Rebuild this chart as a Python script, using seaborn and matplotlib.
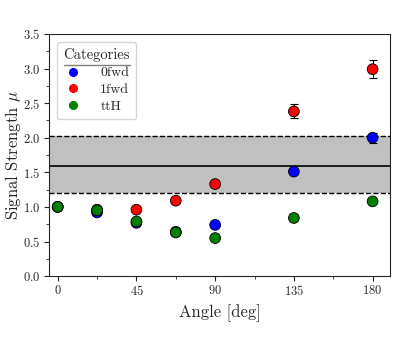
import numpy as np
import pandas as pd
import matplotlib
matplotlib.use("Agg")
import matplotlib.pyplot as plt
import seaborn as sns
from matplotlib.lines import Line2D

# measured signal strengths per category
angles = [0, 22.5, 45, 67.5, 90, 135, 180]
mu_0fwd = [1.00, 0.92, 0.77, 0.64, 0.74, 1.51, 2.00]
err_0fwd = [0.01, 0.02, 0.02, 0.02, 0.02, 0.03, 0.07]
mu_1fwd = [1.00, 0.96, 0.96, 1.09, 1.33, 2.38, 2.99]
err_1fwd = [0.01, 0.02, 0.02, 0.03, 0.04, 0.10, 0.13]
mu_tth = [1.00, 0.95, 0.79, 0.63, 0.55, 0.84, 1.08]
err_tth = [0.01, 0.01, 0.01, 0.01, 0.01, 0.01, 0.01]

# reference band
band_center = 1.59
band_low = 1.20
band_high = 2.02

categories = ["0fwd", "1fwd", "ttH"]
colors = ["blue", "red", "green"]

df = pd.DataFrame({
    "angle": angles * 3,
    "mu": mu_0fwd + mu_1fwd + mu_tth,
    "err": err_0fwd + err_1fwd + err_tth,
    "cat": np.repeat(categories, len(angles)),
})

sns.set_style("ticks")
plt.rcParams["font.family"] = ["cmr10", "DejaVu Serif"]
plt.rcParams["mathtext.fontset"] = "cm"
plt.rcParams["axes.formatter.use_mathtext"] = True

fig = plt.figure(figsize=(4.15, 3.46), dpi=100)
ax = fig.add_axes([0.118, 0.202, 0.822, 0.70])

ax.axhspan(band_low, band_high, color="silver", zorder=0, lw=0)
ax.axhline(band_center, color="black", lw=1.2, zorder=1)
ax.axhline(band_low, color="black", lw=1.0, ls="--", zorder=1)
ax.axhline(band_high, color="black", lw=1.0, ls="--", zorder=1)

for cat in categories:
    d = df[df["cat"] == cat]
    ax.errorbar(d["angle"], d["mu"], yerr=d["err"], fmt="none",
                ecolor="black", elinewidth=0.8, capsize=3, capthick=0.8, zorder=2)

sns.scatterplot(data=df, x="angle", y="mu", hue="cat", palette=colors,
                hue_order=categories, s=60, edgecolor="black", linewidth=0.6,
                zorder=3, ax=ax, legend=False)

ax.set_xlim(-5, 190)
ax.set_ylim(0, 3.5)
ax.set_xticks([0, 45, 90, 135, 180])
ax.set_xticks(np.arange(22.5, 190, 45), minor=True)
ax.set_yticks(np.arange(0, 3.51, 0.5))
ax.set_yticks(np.arange(0.25, 3.5, 0.5), minor=True)
ax.tick_params(labelsize=9, length=3.5, width=0.8, pad=2.5)
ax.tick_params(which="minor", length=2, width=0.6)
for s in ax.spines.values():
    s.set_linewidth(0.8)
ax.set_xlabel("Angle [deg]", fontsize=12)
ax.set_ylabel(r"Signal Strength $\mu$", fontsize=12)
ax.yaxis.set_label_coords(-0.075, 0.5)

handles = [Line2D([], [], marker="o", ls="none", color=c, markersize=5.5)
           for c in colors]
leg = ax.legend(handles, categories, title="Categories", loc="upper left",
                fontsize=10, title_fontsize=10.5, handletextpad=1.3,
                handlelength=1.3, borderpad=0.45, labelspacing=0.3,
                borderaxespad=0.6)

fig.canvas.draw()
bb = leg.get_title().get_window_extent().transformed(fig.transFigure.inverted())
fig.add_artist(Line2D([bb.x0, bb.x1], [bb.y0 - 0.006, bb.y0 - 0.006],
                      transform=fig.transFigure, color="gray", lw=1.0))

fig.savefig("out.png", dpi=100)
